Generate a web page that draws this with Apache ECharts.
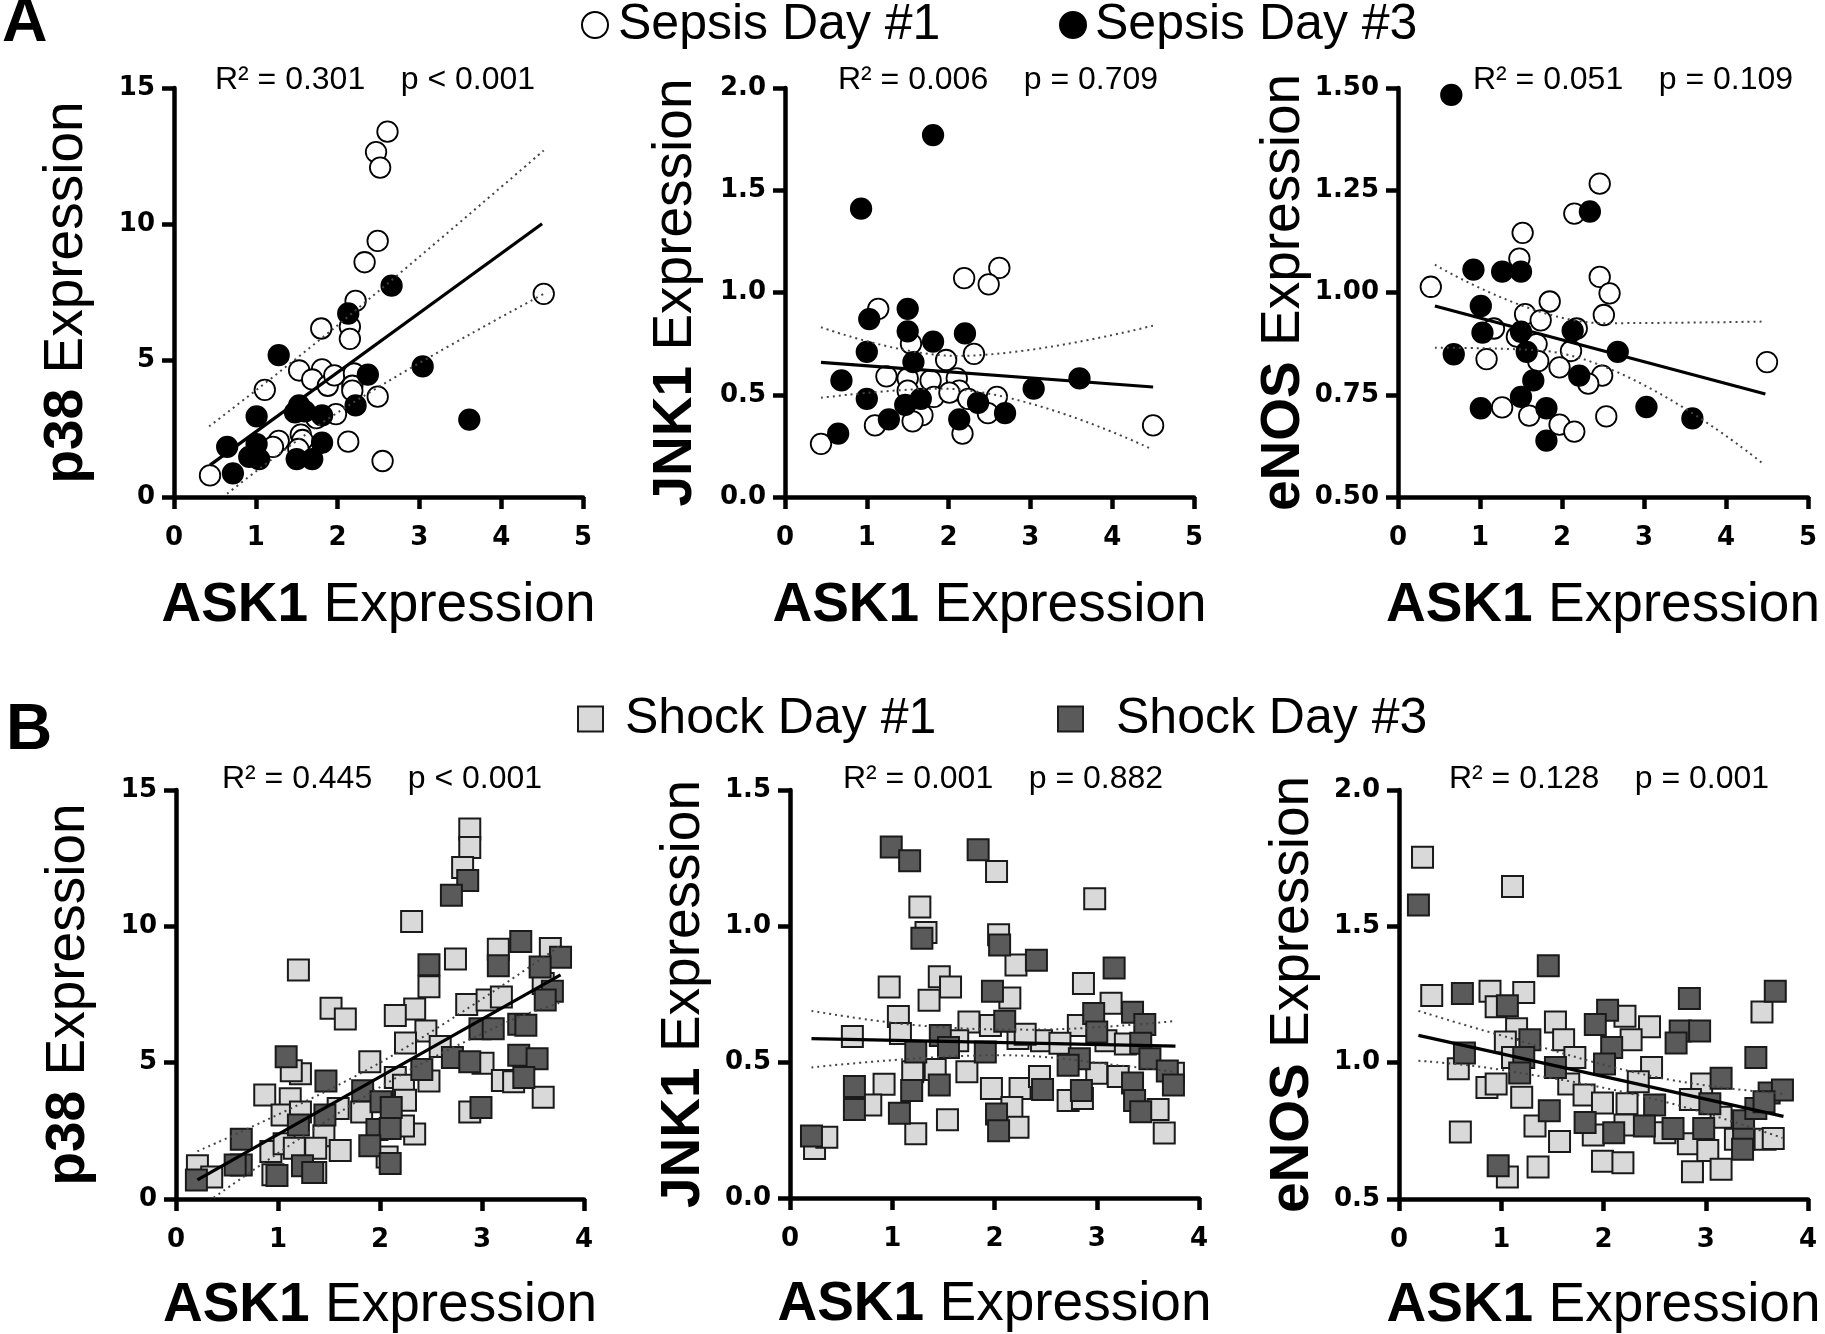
<!DOCTYPE html>
<html><head><meta charset="utf-8">
<script src="https://cdn.jsdelivr.net/npm/echarts@6/dist/echarts.min.js"></script>
<style>html,body{margin:0;padding:0;background:#fff}#c{width:1825px;height:1334px}</style>
</head><body><div id="c"></div>
<script>
// ---------- DATA (ASK1 expression, target expression) ----------
const xTicksA = [0, 5, 1];           // min, max, interval
const xTicksB = [0, 4, 1];
const legendNames = ['Sepsis Day #1', 'Sepsis Day #3', 'Shock Day #1', 'Shock Day #3'];
const yTitles = ['p38', 'JNK1', 'eNOS', 'p38', 'JNK1', 'eNOS'];
const statLabels = [
  'R² = 0.301    p < 0.001', 'R² = 0.006    p = 0.709', 'R² = 0.051    p = 0.109',
  'R² = 0.445    p < 0.001', 'R² = 0.001    p = 0.882', 'R² = 0.128    p = 0.001'
];
const yRanges = [[0, 15, 5], [0, 2, 0.5], [0.5, 1.5, 0.25], [0, 15, 5], [0, 1.5, 0.5], [0.5, 2, 0.5]];
const yDecimals = [0, 1, 2, 0, 1, 1];

// Panel A1: p38 (sepsis)
const a1Day1 = [[2.61,13.40],[2.47,12.65],[2.52,12.08],[2.49,9.39],[2.33,8.61],[2.22,7.19],[4.52,7.45],[1.80,6.18],[2.15,6.25],[2.15,5.80],[1.11,3.93],[1.53,4.64],[1.81,4.68],[1.69,4.31],[1.88,4.08],[1.96,4.46],[2.20,4.53],[2.18,4.08],[2.18,3.90],[2.49,3.68],[1.98,3.04],[1.74,2.89],[1.28,2.06],[1.21,1.84],[1.55,2.29],[1.57,2.09],[1.52,1.76],[2.13,2.03],[2.55,1.32],[0.44,0.79]];
const a1Day3 = [[2.66,7.75],[2.13,6.73],[1.28,5.20],[2.37,4.49],[3.04,4.79],[3.61,2.84],[2.22,3.36],[1.01,2.96],[1.53,3.36],[1.60,3.14],[1.48,3.10],[1.81,2.99],[0.65,1.84],[1.01,1.94],[0.92,1.47],[1.04,1.39],[0.72,0.87],[1.50,1.39],[1.69,1.39],[1.81,1.99]];
const a1Fit = [[0.44,1.17],[4.50,10.02]];
const a1Upper = [[0.43,2.59],[1.98,6.25],[4.52,12.71]];
const a1Lower = [[0.65,0.12],[2.13,3.35],[4.52,7.45]];

// Panel A2: JNK1 (sepsis)
const a2Day1 = [[2.62,1.12],[2.19,1.07],[2.49,1.04],[1.14,0.92],[1.54,0.75],[1.97,0.67],[2.31,0.70],[1.24,0.59],[1.50,0.58],[1.78,0.57],[2.10,0.58],[2.13,0.52],[1.50,0.52],[1.82,0.49],[2.01,0.51],[2.59,0.49],[2.24,0.48],[2.48,0.41],[1.68,0.40],[1.56,0.37],[1.10,0.35],[4.50,0.35],[2.17,0.31],[0.44,0.26]];
const a2Day3 = [[1.81,1.77],[0.93,1.41],[1.50,0.92],[1.03,0.87],[1.50,0.81],[2.20,0.80],[1.81,0.76],[1.00,0.71],[1.57,0.66],[0.69,0.57],[3.60,0.58],[3.04,0.53],[1.00,0.48],[1.66,0.48],[2.36,0.46],[1.47,0.45],[2.69,0.41],[1.27,0.38],[2.13,0.38],[0.65,0.31]];
const a2Fit = [[0.44,0.658],[4.50,0.538]];
const a2Upper = [[0.44,0.83],[2.1,0.69],[4.52,0.84]];
const a2Lower = [[0.44,0.485],[1.9,0.53],[4.45,0.24]];

// Panel A3: eNOS (sepsis)
const a3Day1 = [[2.46,1.266],[2.15,1.193],[1.52,1.146],[1.48,1.083],[0.40,1.014],[2.46,1.038],[2.58,0.998],[1.85,0.978],[1.55,0.947],[2.51,0.945],[1.74,0.932],[1.17,0.912],[2.18,0.912],[1.45,0.892],[1.69,0.874],[2.11,0.857],[1.08,0.837],[1.71,0.832],[1.97,0.817],[2.49,0.797],[2.32,0.777],[1.27,0.719],[1.60,0.699],[2.54,0.697],[1.97,0.677],[2.15,0.660],[4.50,0.830]];
const a3Day3 = [[0.65,1.483],[2.34,1.198],[0.92,1.056],[1.27,1.051],[1.50,1.051],[1.01,0.967],[1.03,0.902],[1.50,0.904],[2.13,0.907],[0.68,0.849],[1.57,0.855],[2.68,0.855],[2.21,0.797],[1.65,0.785],[1.50,0.745],[1.01,0.717],[1.81,0.717],[3.03,0.720],[3.59,0.692],[1.81,0.638]];
const a3Fit = [[0.45,0.967],[4.48,0.752]];
const a3Upper = [[0.45,1.068],[2.5,0.925],[4.48,0.929]];
const a3Lower = [[0.45,0.865],[1.75,0.858],[4.46,0.58]];

// Panel B1: p38 (shock)
const b1Day1 = [[2.88,13.57],[2.88,12.89],[2.81,12.16],[2.31,10.18],[1.20,8.40],[2.74,8.80],[3.16,9.16],[3.67,9.19],[2.48,7.78],[1.52,7.00],[1.66,6.60],[2.34,6.97],[2.15,6.73],[2.85,7.13],[3.05,7.30],[3.19,7.41],[3.60,7.90],[2.45,6.16],[2.25,5.72],[2.59,5.59],[1.90,5.03],[1.22,4.59],[1.13,4.70],[3.01,4.98],[2.48,4.33],[3.20,4.35],[3.31,4.30],[2.15,4.46],[2.23,4.17],[0.87,3.81],[1.12,3.68],[3.60,3.73],[2.88,3.19],[1.82,3.19],[2.25,3.62],[1.04,3.08],[1.22,3.19],[1.59,3.32],[1.45,2.32],[2.34,2.38],[2.23,2.68],[1.61,1.78],[0.93,1.74],[1.06,2.03],[1.37,1.86],[1.16,1.86],[0.21,1.22],[0.35,0.81],[0.95,0.89],[1.37,0.97],[2.07,1.54]];
const b1Day3 = [[2.86,11.68],[2.70,11.14],[2.48,8.59],[3.38,9.44],[3.16,8.55],[3.77,8.87],[3.57,8.51],[3.69,7.62],[3.62,7.30],[2.98,6.24],[3.11,6.24],[3.36,6.41],[3.43,6.37],[1.08,5.22],[2.71,5.19],[2.88,5.03],[3.36,5.27],[3.54,5.14],[3.41,4.46],[2.41,4.75],[1.47,4.33],[1.83,3.97],[2.01,3.57],[2.11,3.36],[2.99,3.36],[1.46,3.08],[1.20,2.71],[1.97,2.55],[2.10,2.59],[0.64,2.19],[1.90,1.95],[2.10,1.30],[0.64,1.25],[0.58,1.25],[0.99,0.86],[1.24,1.22],[1.34,0.97],[0.20,0.70]];
const b1Fit = [[0.21,0.70],[3.77,8.22]];
const b1Upper = [[0.21,1.75],[2.0,5.0],[3.77,9.3]];
const b1Lower = [[0.37,0.05],[2.0,4.1],[3.24,6.48],[3.77,7.2]];

// Panel B2: JNK1 (shock)
const b2Day1 = [[2.02,1.20],[2.98,1.10],[1.27,1.07],[1.33,0.976],[2.04,0.968],[2.21,0.857],[0.97,0.776],[1.46,0.813],[1.57,0.776],[1.36,0.727],[2.87,0.789],[2.15,0.735],[1.06,0.667],[0.61,0.594],[1.08,0.605],[1.75,0.647],[1.96,0.634],[3.14,0.716],[2.82,0.634],[2.23,0.586],[2.46,0.578],[2.64,0.569],[1.64,0.578],[3.09,0.578],[3.28,0.566],[2.30,0.602],[0.92,0.418],[1.20,0.464],[1.73,0.464],[1.97,0.403],[2.25,0.403],[2.44,0.447],[3.00,0.459],[3.21,0.447],[3.75,0.459],[2.72,0.358],[0.79,0.342],[2.17,0.333],[3.60,0.325],[1.54,0.288],[2.23,0.260],[1.23,0.236],[3.66,0.239],[0.24,0.182],[0.36,0.223],[1.42,0.472],[2.86,0.366]];
const b2Day3 = [[0.99,1.29],[1.17,1.24],[1.84,1.28],[1.29,0.955],[2.05,0.93],[2.41,0.874],[3.17,0.846],[1.98,0.76],[2.10,0.65],[2.97,0.678],[3.35,0.683],[3.47,0.638],[3.00,0.61],[1.47,0.597],[1.55,0.553],[1.23,0.537],[1.91,0.537],[3.43,0.569],[3.52,0.512],[2.83,0.512],[2.72,0.488],[3.69,0.467],[0.63,0.41],[1.46,0.415],[3.75,0.415],[3.35,0.423],[1.19,0.395],[2.47,0.399],[2.85,0.395],[3.37,0.358],[0.63,0.325],[1.07,0.312],[2.02,0.309],[2.04,0.247],[3.43,0.317],[0.21,0.228]];
const b2Fit = [[0.21,0.586],[3.77,0.558]];
const b2Upper = [[0.21,0.688],[1.24,0.635],[2.38,0.619],[3.75,0.65]];
const b2Lower = [[0.21,0.48],[2.05,0.525],[3.36,0.482],[3.75,0.464]];

// Panel B3: eNOS (shock)
const b3Day1 = [[0.23,1.753],[1.11,1.646],[0.32,1.246],[0.89,1.262],[1.22,1.257],[0.95,1.205],[1.53,1.149],[1.15,1.124],[2.21,1.17],[2.45,1.132],[1.61,1.084],[2.27,1.084],[3.55,1.186],[1.04,1.076],[1.11,1.019],[1.72,1.019],[2.47,0.982],[0.58,0.978],[0.86,0.909],[0.95,0.922],[1.20,0.873],[1.66,0.922],[1.81,0.881],[1.99,0.852],[2.23,0.849],[2.34,0.93],[2.96,0.922],[2.85,0.865],[1.33,0.768],[1.57,0.711],[1.90,0.735],[2.21,0.771],[2.60,0.743],[2.83,0.703],[3.02,0.678],[3.15,0.80],[3.58,0.719],[3.66,0.722],[3.29,0.719],[0.60,0.746],[1.36,0.617],[1.06,0.581],[1.99,0.638],[2.19,0.633],[2.87,0.60],[3.15,0.609]];
const b3Day3 = [[0.19,1.578],[1.46,1.355],[0.62,1.254],[1.06,1.209],[2.84,1.235],[3.68,1.262],[2.04,1.192],[1.92,1.14],[2.75,1.116],[2.94,1.116],[2.71,1.072],[2.08,1.056],[1.28,1.084],[0.64,1.035],[2.01,0.995],[3.49,1.019],[1.22,1.019],[1.18,0.962],[1.53,0.982],[3.15,0.943],[3.62,0.889],[3.75,0.90],[2.50,0.845],[3.04,0.849],[1.47,0.824],[1.82,0.781],[2.10,0.743],[2.40,0.768],[2.68,0.759],[2.98,0.759],[3.37,0.787],[3.49,0.832],[3.37,0.719],[3.36,0.682],[0.97,0.622],[3.57,0.857]];
const b3Fit = [[0.19,1.10],[3.76,0.803]];
const b3Upper = [[0.19,1.19],[0.96,1.104],[2.53,0.946],[3.75,0.886]];
const b3Lower = [[0.19,1.007],[0.96,0.976],[2.50,0.866],[3.75,0.724]];

// ---------- LAYOUT / STYLE ----------
const SANS = '"Liberation Sans", Arial, Helvetica, sans-serif';
const TICKFONT = '"DejaVu Sans", "Liberation Sans", Arial, sans-serif';
const gridBoxes = [
  {left: 174, top: 88, width: 409, height: 409},
  {left: 785, top: 88, width: 409, height: 409},
  {left: 1398, top: 88, width: 410, height: 409},
  {left: 176, top: 790, width: 408, height: 410},
  {left: 790, top: 790, width: 409, height: 408},
  {left: 1399, top: 790, width: 409, height: 410}
];
const panels = [
  {d1: a1Day1, d3: a1Day3, fit: a1Fit, up: a1Upper, lo: a1Lower},
  {d1: a2Day1, d3: a2Day3, fit: a2Fit, up: a2Upper, lo: a2Lower},
  {d1: a3Day1, d3: a3Day3, fit: a3Fit, up: a3Upper, lo: a3Lower},
  {d1: b1Day1, d3: b1Day3, fit: b1Fit, up: b1Upper, lo: b1Lower},
  {d1: b2Day1, d3: b2Day3, fit: b2Fit, up: b2Upper, lo: b2Lower},
  {d1: b3Day1, d3: b3Day3, fit: b3Fit, up: b3Upper, lo: b3Lower}
];
const styles = {
  sepsis1: {symbol: 'circle', size: 20.5, color: '#ffffff', border: '#000000', bw: 1.8},
  sepsis3: {symbol: 'circle', size: 20.5, color: '#000000', border: '#000000', bw: 1.8},
  shock1: {symbol: 'rect', size: 21, color: '#d9d9d9', border: '#1a1a1a', bw: 2},
  shock3: {symbol: 'rect', size: 21, color: '#5a5a5a', border: '#1a1a1a', bw: 2}
};
const yNameGap = [80, 82, 83, 80, 79, 79];
const xNameGap = [81, 81, 81, 79, 79, 79];

const grid = gridBoxes.map(g => Object.assign({containLabel: false}, g));
const xAxis = [], yAxis = [], series = [];
const nameStyle = {fontSize: 55, fontFamily: SANS, color: '#000', rich: {b: {fontSize: 55, fontFamily: SANS, fontWeight: 'bold', color: '#000'}}};
const axisCommon = (i) => ({
  gridIndex: i, type: 'value', splitLine: {show: false},
  axisLine: {show: true, onZero: false, lineStyle: {color: '#000', width: 4.5}},
  axisTick: {show: true, inside: false, length: 12, lineStyle: {color: '#000', width: 4.5}},
  nameLocation: 'middle', nameTextStyle: nameStyle
});

panels.forEach((p, i) => {
  const isA = i < 3;
  const xr = isA ? xTicksA : xTicksB;
  const yr = yRanges[i];
  xAxis.push(Object.assign(axisCommon(i), {
    min: xr[0], max: xr[1], interval: xr[2],
    name: '{b|ASK1} Expression', nameGap: xNameGap[i],
    axisLabel: {fontFamily: TICKFONT, fontWeight: 'bold', fontSize: 26, color: '#000', margin: 28}
  }));
  yAxis.push(Object.assign(axisCommon(i), {
    min: yr[0], max: yr[1], interval: yr[2],
    name: '{b|' + yTitles[i] + '} Expression', nameGap: yNameGap[i],
    axisLabel: {fontFamily: TICKFONT, fontWeight: 'bold', fontSize: 26, color: '#000', margin: 19,
      formatter: v => v.toFixed(yDecimals[i])}
  }));
  const s1 = isA ? styles.sepsis1 : styles.shock1;
  const s3 = isA ? styles.sepsis3 : styles.shock3;
  const n1 = isA ? legendNames[0] : legendNames[2];
  const n3 = isA ? legendNames[1] : legendNames[3];
  [[n1, s1, p.d1], [n3, s3, p.d3]].forEach(([nm, st, data]) => {
    series.push({
      type: 'scatter', name: nm, xAxisIndex: i, yAxisIndex: i, data: data,
      symbol: st.symbol, symbolSize: st.size, z: 2,
      itemStyle: {color: st.color, borderColor: st.border, borderWidth: st.bw, opacity: 1},
      emphasis: {disabled: true}
    });
  });
  series.push({type: 'line', xAxisIndex: i, yAxisIndex: i, data: p.fit, symbol: 'none', silent: true, z: 4,
    lineStyle: {color: '#000', width: 3.2}});
  [p.up, p.lo].forEach(band => series.push({
    type: 'line', xAxisIndex: i, yAxisIndex: i, data: band, symbol: 'none', silent: true, z: 3, smooth: 0.4,
    lineStyle: {color: '#444', width: 2, type: [2, 4]}
  }));
});

const legendBase = (name, icon, st, left, top, pad, size) => ({
  data: [{name: name, icon: icon, itemStyle: {color: st.color, borderColor: st.border, borderWidth: 2}}],
  left: left, top: top, padding: 0, itemWidth: size, itemHeight: size, selectedMode: false,
  textStyle: {fontSize: 50, fontFamily: SANS, color: '#000', lineHeight: 40, padding: [0, 0, 0, pad]}
});
const legend = [
  legendBase(legendNames[0], 'circle', styles.sepsis1, 581, 0, 5, 26),
  legendBase(legendNames[1], 'circle', styles.sepsis3, 1059, 0, 4, 26),
  legendBase(legendNames[2], 'rect', styles.shock1, 577, 694, 17, 25),
  legendBase(legendNames[3], 'rect', styles.shock3, 1057, 694, 28, 25)
];

const statPos = [[375, 80], [998, 80], [1633, 80], [382, 779], [1003, 779], [1609, 779]];
const graphic = statLabels.map((t, i) => ({
  type: 'text', x: statPos[i][0], y: statPos[i][1], silent: true,
  style: {text: t, fill: '#000', font: '32px ' + SANS, align: 'center', verticalAlign: 'middle'}
}));
graphic.push({type: 'text', x: 2, y: 24, silent: true,
  style: {text: 'A', fill: '#000', font: 'bold 63px ' + SANS, align: 'left', verticalAlign: 'middle'}});
graphic.push({type: 'text', x: 6, y: 731, silent: true,
  style: {text: 'B', fill: '#000', font: 'bold 64px ' + SANS, align: 'left', verticalAlign: 'middle'}});

const chart = echarts.init(document.getElementById('c'), null, {renderer: 'canvas'});
chart.setOption({
  animation: false, backgroundColor: '#fff',
  grid: grid, xAxis: xAxis, yAxis: yAxis, series: series, legend: legend, graphic: graphic
});
</script></body></html>
